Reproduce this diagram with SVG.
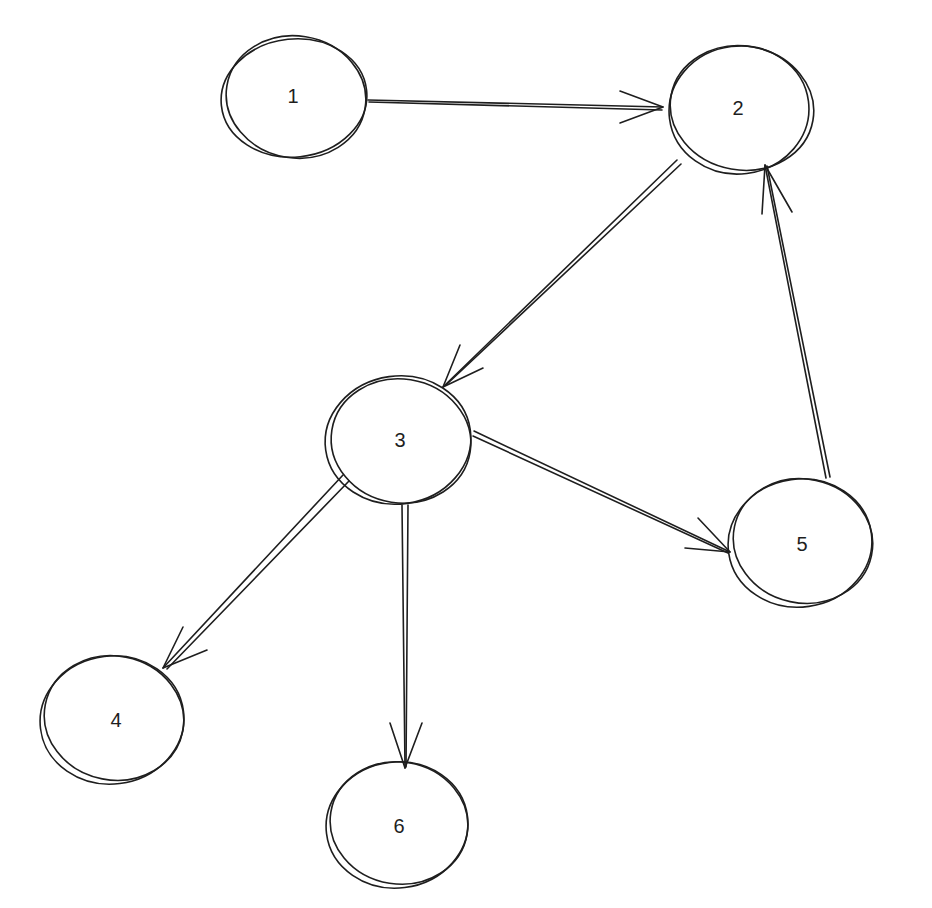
<svg xmlns="http://www.w3.org/2000/svg" width="932" height="908" viewBox="0 0 932 908">
<style>
.s{fill:none;stroke:#1e1e1e;stroke-width:1.6;stroke-linecap:round;stroke-linejoin:round}
.t{font-family:"Liberation Sans",Arial,sans-serif;font-size:20px;fill:#1e1e1e;text-anchor:middle;dominant-baseline:central}
</style>
<rect width="932" height="908" fill="#ffffff"/>
<g id="connectors">
  <g id="e1-2">
    <path class="s" d="M368 100 L663 107"/>
    <path class="s" d="M369 102 L662 110"/>
    <path class="s" d="M620 91 L663 107 L620 123"/>
  </g>
  <g id="e2-3">
    <path class="s" d="M677 160 L443 387"/>
    <path class="s" d="M681 164 L446 385"/>
    <path class="s" d="M460 345 L443 387 L483 368"/>
  </g>
  <g id="e5-2">
    <path class="s" d="M826 478 L765 165"/>
    <path class="s" d="M830 477 L767 166"/>
    <path class="s" d="M762 214 L765 165 L792 212"/>
  </g>
  <g id="e3-5">
    <path class="s" d="M474 431 L730 552"/>
    <path class="s" d="M473 436 L728 553"/>
    <path class="s" d="M698 518 L730 552 L685 548"/>
  </g>
  <g id="e3-4">
    <path class="s" d="M343 475 L163 668"/>
    <path class="s" d="M349 481 L167 669"/>
    <path class="s" d="M183 627 L163 668 L207 650"/>
  </g>
  <g id="e3-6">
    <path class="s" d="M402 505 L405 768"/>
    <path class="s" d="M408 505 L406 767"/>
    <path class="s" d="M390 723 L405 768 L422 723"/>
  </g>
</g>
<g id="node1">
  <ellipse class="s" cx="294" cy="98" rx="73" ry="59" transform="rotate(-6 294 98)"/>
  <ellipse class="s" cx="296" cy="97" rx="70" ry="61" transform="rotate(9 296 97)"/>
  <text class="t" x="293" y="96">1</text>
</g>
<g id="node2">
  <ellipse class="s" cx="739" cy="110" rx="70" ry="64" transform="rotate(-7 739 110)"/>
  <ellipse class="s" cx="742" cy="108" rx="72" ry="62" transform="rotate(10 742 108)"/>
  <text class="t" x="738" y="108">2</text>
</g>
<g id="node3">
  <ellipse class="s" cx="398" cy="440" rx="73" ry="64" transform="rotate(-8 398 440)"/>
  <ellipse class="s" cx="401" cy="441" rx="70" ry="62" transform="rotate(9 401 441)"/>
  <text class="t" x="400" y="440">3</text>
</g>
<g id="node4">
  <ellipse class="s" cx="112" cy="720" rx="72" ry="64" transform="rotate(-7 112 720)"/>
  <ellipse class="s" cx="114" cy="718" rx="70" ry="62" transform="rotate(11 114 718)"/>
  <text class="t" x="116" y="720">4</text>
</g>
<g id="node5">
  <ellipse class="s" cx="800" cy="543" rx="72" ry="64" transform="rotate(-8 800 543)"/>
  <ellipse class="s" cx="803" cy="541" rx="70" ry="62" transform="rotate(12 803 541)"/>
  <text class="t" x="802" y="544">5</text>
</g>
<g id="node6">
  <ellipse class="s" cx="397" cy="825" rx="71" ry="63" transform="rotate(-7 397 825)"/>
  <ellipse class="s" cx="399" cy="823" rx="69" ry="61" transform="rotate(9 399 823)"/>
  <text class="t" x="399" y="826">6</text>
</g>
</svg>
